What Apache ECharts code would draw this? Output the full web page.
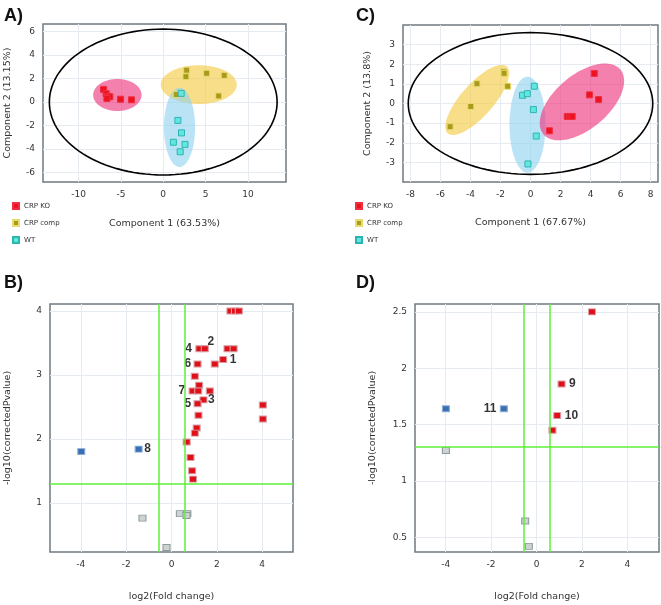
<!DOCTYPE html>
<html><head><meta charset="utf-8">
<script src="https://cdn.jsdelivr.net/npm/echarts@6/dist/echarts.min.js"></script>
<style>html,body{margin:0;padding:0;background:#fff}#c{width:661px;height:605px}</style>
</head><body><div id="c"></div>
<script>
// ---------- DATA ----------
const groupNames = ['CRP KO', 'CRP comp', 'WT'];
// Panel A (PCA)
const pcaA_KO   = [[-7.05,1.08],[-6.75,0.72],[-6.55,0.5],[-6.3,0.45],[-6.65,0.3],[-5.05,0.24],[-3.75,0.19]];
const pcaA_comp = [[2.77,2.71],[2.68,2.16],[5.13,2.45],[7.2,2.27],[6.55,0.52],[1.53,0.64]];
const pcaA_WT   = [[2.12,0.74],[1.73,-1.56],[2.16,-2.62],[1.2,-3.42],[2.57,-3.6],[2.0,-4.23]];
// Panel C (PCA)
const pcaC_KO   = [[4.25,1.53],[3.93,0.44],[4.54,0.2],[2.45,-0.66],[2.62,-0.66],[2.78,-0.66],[1.26,-1.39]];
const pcaC_comp = [[-1.8,1.62],[-1.76,1.54],[-3.57,1.01],[-1.52,0.88],[-3.98,-0.15],[-5.36,-1.18]];
const pcaC_WT   = [[0.25,0.88],[-0.53,0.42],[-0.21,0.5],[0.19,-0.31],[0.38,-1.66],[-0.17,-3.08]];
// Confidence ellipses in data units: centre, semi-axis vector u, semi-axis vector v
const ellipsesA = [
  {group:'all',      c:[0,0],        u:[13.45,0],   v:[0,6.2]},
  {group:'CRP KO',   c:[-5.42,0.6],  u:[2.86,0],    v:[0,1.36]},
  {group:'CRP comp', c:[4.2,1.48],   u:[4.49,0],    v:[0,1.65]},
  {group:'WT',       c:[1.92,-2.15], u:[1.84,0],    v:[0,3.37]}
];
const ellipsesC = [
  {group:'all',      c:[0,0],        u:[8.15,0],    v:[0,3.61]},
  {group:'CRP comp', c:[-3.55,0.18], u:[1.97,1.70], v:[0.81,-0.55]},
  {group:'WT',       c:[-0.2,-1.08], u:[1.2,0],     v:[0,2.45]},
  {group:'CRP KO',   c:[3.43,0.08],  u:[2.56,1.655],v:[1.165,-1.047]}
];
// Panel B (volcano)
const volB_up = [[2.6,4.0],[2.8,4.0],[2.97,4.0],[1.23,3.41],[1.47,3.41],[2.47,3.41],[2.74,3.41],
  [2.28,3.24],[1.15,3.17],[1.91,3.17],[1.03,2.98],[1.22,2.84],[0.93,2.75],[1.18,2.75],[1.69,2.75],
  [1.41,2.61],[1.15,2.55],[4.03,2.53],[1.19,2.37],[4.03,2.31],[1.11,2.17],[1.03,2.09],[0.67,1.95],
  [0.84,1.71],[0.91,1.5],[0.95,1.37]];
const volB_down = [[-3.98,1.80],[-1.45,1.84]];
const volB_ns = [[-1.28,0.76],[0.37,0.83],[0.7,0.83],[0.66,0.80],[-0.22,0.30]];
const volB_labels = [[2.28,3.24,'1'],[1.47,3.41,'2'],[1.41,2.61,'3'],[1.23,3.41,'4'],[1.15,2.55,'5'],[1.15,3.17,'6'],[0.93,2.75,'7'],[-1.45,1.84,'8']];
// Panel D (volcano)
const volD_up = [[2.44,2.5],[1.1,1.86],[0.91,1.58],[0.7,1.45]];
const volD_down = [[-3.99,1.64],[-1.44,1.64]];
const volD_ns = [[-3.99,1.27],[-0.5,0.645],[-0.34,0.42]];
const volD_labels = [[1.1,1.86,'9'],[0.91,1.58,'10'],[-1.44,1.64,'11']];
// thresholds
const fcThreshold = [-0.585, 0.585];
const pThreshold = 1.301;
// tick values
const ticksA_x = [-10,-5,0,5,10], ticksA_y = [-6,-4,-2,0,2,4,6];
const ticksC_x = [-8,-6,-4,-2,0,2,4,6,8], ticksC_y = [-3,-2,-1,0,1,2,3];
const ticksB_x = [-4,-2,0,2,4], ticksB_y = [1,2,3,4];
const ticksD_x = [-4,-2,0,2,4], ticksD_y = [0.5,1,1.5,2,2.5];

// ---------- STYLE ----------
const FONT = 'DejaVu Sans';
const colKO = '#ec1220', colComp = '#a99a1c', colWT = '#62e6e0';
const ellStyle = {
  'all':      {fill:'none', stroke:'#000', lineWidth:1.6},
  'CRP KO':   {fill:'rgba(238,50,125,0.62)'},
  'CRP comp': {fill:'rgba(245,200,60,0.6)'},
  'WT':       {fill:'rgba(140,210,240,0.6)'}
};
const labelSide = {'1':['right',3],'2':['top',2],'3':['right',1],'4':['left',4],'5':['left',3],'6':['left',3],'7':['left',4],'8':['right',2],'9':['right',4],'10':['right',4],'11':['left',4]};

function valAxis(gi, min, max, ticks, name, gap) {
  return {
    type:'value', gridIndex:gi, min:min, max:max,
    name:name, nameLocation:'middle', nameGap:gap,
    nameTextStyle:{fontFamily:FONT, fontSize:9.5, color:'#333'},
    axisLine:{show:false},
    axisTick:{show:false, customValues:ticks},
    axisLabel:{customValues:ticks, fontFamily:FONT, fontSize:9, color:'#333', margin:8},
    splitLine:{show:true, lineStyle:{color:'#e6ebf1', width:1}}
  };
}
function ellipseSeries(xi, list) {
  return {
    type:'custom', xAxisIndex:xi, yAxisIndex:xi, silent:true, z:1,
    data: list.map(e => [e.c[0], e.c[1]]), encode:{x:0, y:1},
    renderItem: function (params, api) {
      const e = list[params.dataIndex];
      const pts = [];
      for (let k = 0; k < 120; k++) {
        const t = k / 120 * 2 * Math.PI;
        pts.push(api.coord([e.c[0] + e.u[0]*Math.cos(t) + e.v[0]*Math.sin(t),
                            e.c[1] + e.u[1]*Math.cos(t) + e.v[1]*Math.sin(t)]));
      }
      return {type:'polygon', shape:{points:pts}, style:ellStyle[e.group], z2: e.group === 'all' ? 0 : 1};
    }
  };
}
function pcaSeries(xi, name, data, color, border) {
  return {type:'scatter', name:name, xAxisIndex:xi, yAxisIndex:xi, data:data, symbol:'rect', symbolSize:6, z:3,
    itemStyle:{color:color, borderColor:border, borderWidth:1, opacity:1}};
}
function volSeries(xi, name, data, color, border, withLines) {
  const s = {type:'scatter', name:name, xAxisIndex:xi, yAxisIndex:xi, data:data, symbol:'rect', symbolSize:[7,6], z:3,
    itemStyle:{color:color, borderColor:border, borderWidth:1, opacity:1}};
  if (withLines) {
    s.markLine = {silent:true, symbol:'none', label:{show:false}, animation:false,
      lineStyle:{color:'#5ef03a', width:1.5, type:'solid'},
      data: fcThreshold.map(v => ({xAxis:v})).concat([{yAxis:pThreshold}])};
  }
  return s;
}
function labelSeries(xi, list) {
  return {type:'scatter', xAxisIndex:xi, yAxisIndex:xi, symbolSize:7, silent:true, z:4,
    itemStyle:{color:'rgba(0,0,0,0)'},
    data: list.map(l => ({value:[l[0], l[1]], label:{show:true, formatter:l[2], position:labelSide[l[2]][0], distance:labelSide[l[2]][1],
      offset: l[2]==='2' ? [6,4] : [0,0], color:'#000', fontFamily:'Liberation Sans', fontWeight:'bold', fontSize:12}})),
    label:{fontFamily:'Liberation Sans', fontWeight:'bold', fontSize:12, color:'#000'}};
}

const option = {
  animation:false,
  title:[
    {text:'A)', left:-1, top:2},
    {text:'C)', left:351, top:2},
    {text:'B)', left:-1, top:269},
    {text:'D)', left:351, top:269}
  ].map(t => Object.assign(t, {textStyle:{fontFamily:'Liberation Sans', fontWeight:'bold', fontSize:18, color:'#111'}})),
  legend:[
    {data:groupNames, orient:'vertical', left:7, top:197},
    {data:groupNames, orient:'vertical', left:350, top:197}
  ].map(l => Object.assign(l, {itemWidth:6, itemHeight:6, itemGap:9, icon:'rect', selectedMode:false,
      textStyle:{fontFamily:FONT, fontSize:7, color:'#333'}})),
  grid:[
    {left:43, top:24, width:243, height:158},
    {left:403, top:25, width:255, height:157},
    {left:50, top:304, width:243, height:248},
    {left:415, top:304, width:244, height:248}
  ].map(g => Object.assign(g, {show:true, borderColor:'#6f7880', borderWidth:1.5, backgroundColor:'transparent'})),
  xAxis:[
    valAxis(0, -14.2, 14.5, ticksA_x, 'Component 1 (63.53%)', 37),
    valAxis(1, -8.5, 8.5, ticksC_x, 'Component 1 (67.67%)', 36),
    valAxis(2, -5.36, 5.36, ticksB_x, 'log2(Fold change)', 40),
    valAxis(3, -5.35, 5.39, ticksD_x, 'log2(Fold change)', 40)
  ],
  yAxis:[
    valAxis(0, -6.8, 6.64, ticksA_y, 'Component 2 (13.15%)', 30),
    valAxis(1, -4, 4, ticksC_y, 'Component 2 (13.8%)', 30),
    valAxis(2, 0.23, 4.11, ticksB_y, '-log10(correctedPvalue)', 37),
    valAxis(3, 0.37, 2.57, ticksD_y, '-log10(correctedPvalue)', 37)
  ],
  series:[
    ellipseSeries(0, ellipsesA),
    pcaSeries(0, 'CRP KO', pcaA_KO, colKO, '#f03040'),
    pcaSeries(0, 'CRP comp', pcaA_comp, colComp, '#e8dc70'),
    pcaSeries(0, 'WT', pcaA_WT, colWT, '#2eb4b0'),
    ellipseSeries(1, ellipsesC),
    pcaSeries(1, 'CRP KO', pcaC_KO, colKO, '#f03040'),
    pcaSeries(1, 'CRP comp', pcaC_comp, colComp, '#e8dc70'),
    pcaSeries(1, 'WT', pcaC_WT, colWT, '#2eb4b0'),
    volSeries(2, 'upB', volB_up, '#e01018', '#d8a0a8', true),
    volSeries(2, 'downB', volB_down, '#3a6fb4', '#8fb0d8', false),
    volSeries(2, 'nsB', volB_ns, '#cdd2d2', '#8c9c9c', false),
    labelSeries(2, volB_labels),
    volSeries(3, 'upD', volD_up, '#e01018', '#d8a0a8', true),
    volSeries(3, 'downD', volD_down, '#3a6fb4', '#8fb0d8', false),
    volSeries(3, 'nsD', volD_ns, '#cdd2d2', '#8c9c9c', false),
    labelSeries(3, volD_labels)
  ]
};
const chart = echarts.init(document.getElementById('c'), null, {renderer:'canvas'});
chart.setOption(option);
</script></body></html>
